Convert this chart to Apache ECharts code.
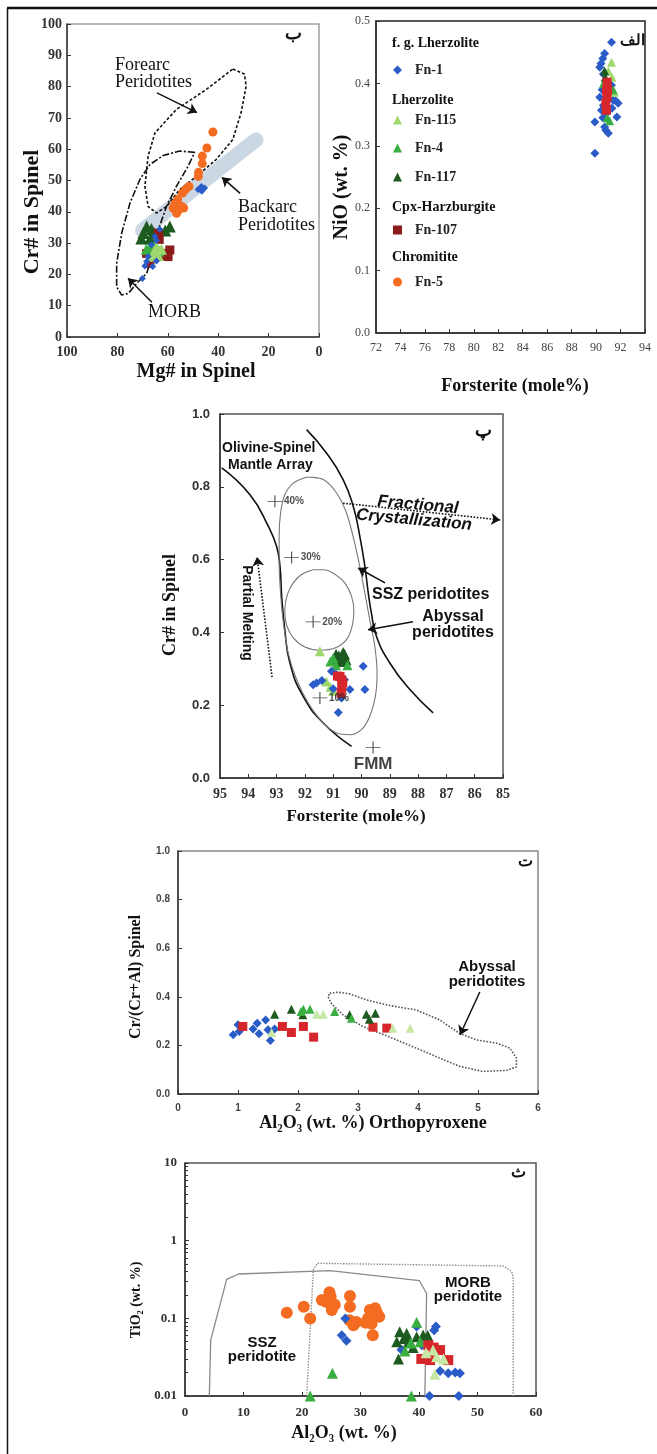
<!DOCTYPE html>
<html>
<head>
<meta charset="utf-8">
<script src="https://cdn.jsdelivr.net/npm/echarts@6/dist/echarts.min.js"></script>
<style>
  html, body { margin: 0; padding: 0; background: #fff; }
  #chart { width: 657px; height: 1454px; }
</style>
</head>
<body>
<div id="chart"></div>
<script>
// ---------- Panel ب : Mg# vs Cr# in spinel ----------
const mgcrFn1 = [[46.7,48.1],[48.0,47.1],[45.4,47.6],[46.5,46.6],[63.2,34.4],[65.1,32.1],[64.5,30.8],[66.5,29.5],[67.8,25.7],[68.4,24.1],[69.1,22.7],[64.5,24.3],[70.1,18.7],[66.0,22.5]];
const mgcrFn115 = [[65.1,27.5],[63.8,26.0],[62.5,28.0],[66.3,25.8],[64.5,28.8]];
const mgcrFn4 = [[67.1,28.5],[65.1,29.5],[66.0,27.8],[63.5,27.5],[68.5,28.0]];
const mgcrFn117 = [[68.4,35.3],[69.7,33.2],[70.5,31.5],[66.5,34.5],[59.2,35.3],[61.0,34.0],[67.0,31.5],[65.5,33.2]];
const mgcrFn107 = [[60.5,26.7],[59.2,27.8],[59.9,25.7],[68.4,26.7],[67.1,23.5],[63.8,33.2],[63.4,31.2],[61.5,26.0]];
const mgcrFn5 = [[42.1,65.5],[44.5,60.4],[46.3,57.8],[46.3,55.4],[47.8,52.6],[47.9,51.3],[51.6,48.1],[53.0,47.1],[54.2,46.0],[56.1,43.9],[57.2,42.6],[54.6,41.7],[57.9,41.2],[55.9,40.4],[53.7,41.2],[56.5,39.5]];
const mgcrForearc = [[34.2,85.6],[29.6,84.0],[28.9,80.2],[30.9,71.7],[34.2,63.1],[40.8,56.7],[48.7,51.3],[55.3,47.1],[60.5,41.7],[64.5,39.6],[67.8,41.7],[69.1,48.1],[67.8,57.8],[65.1,65.2],[56.6,72.7],[44.7,79.1],[34.2,85.6]];
const mgcrMorb = [[49.3,59.0],[55.3,59.4],[61.8,58.0],[67.1,55.1],[71.1,50.3],[75.0,42.8],[78.3,33.2],[80.3,23.5],[80.3,16.0],[78.3,13.4],[75.7,13.9],[72.4,17.1],[68.4,20.3],[65.8,26.7],[63.8,34.2],[60.5,41.7],[56.6,48.1],[52.0,54.5],[49.3,59.0]];
const mgcrBackarc = [[70,34],[47,49],[25,63]];
const mgcrArrows = [[[64.3,78.0],[48.4,71.7]],[[31.3,45.9],[38.5,51.0]],[[66.3,11.1],[75.8,18.8]]];

// ---------- Panel الف : Forsterite vs NiO in olivine ----------
const foniFn1 = [[91.26,0.466],[90.7,0.448],[90.55,0.44],[90.4,0.432],[90.3,0.426],[90.6,0.415],[90.3,0.378],[90.5,0.39],[90.44,0.357],[89.9,0.338],[90.85,0.352],[90.7,0.33],[90.8,0.325],[91.0,0.32],[91.7,0.346],[91.8,0.368],[91.6,0.372],[91.4,0.373],[89.9,0.288],[91.26,0.397],[90.6,0.365],[91.3,0.36],[90.55,0.345]];
const foniFn115 = [[91.26,0.434],[91.3,0.41],[91.5,0.386],[91.0,0.42]];
const foniFn4 = [[91.1,0.34],[90.9,0.345],[91.4,0.39],[90.6,0.40]];
const foniFn117 = [[90.7,0.42],[90.75,0.41]];
const foniFn107 = [[90.9,0.402],[90.85,0.389],[90.9,0.378],[90.8,0.368],[90.85,0.357],[90.95,0.39]];

// ---------- Panel پ : olivine Fo vs spinel Cr# (OSMA) ----------
const focrFn1 = [[89.94,0.307],[91.06,0.293],[91.59,0.261],[91.4,0.268],[91.71,0.256],[90.9,0.285],[90.41,0.243],[89.88,0.243],[90.71,0.22],[90.82,0.18],[91.0,0.245],[90.6,0.27]];
const focrFn115 = [[91.47,0.348],[91.24,0.265],[91.1,0.25],[91.0,0.24]];
const focrFn4 = [[91.0,0.33],[90.9,0.31],[90.5,0.31],[91.1,0.32]];
const focrFn117 = [[90.9,0.34],[90.8,0.335],[90.7,0.33],[90.6,0.34],[90.55,0.325],[90.75,0.32],[90.65,0.345],[91.0,0.325]];
const focrFn107 = [[90.76,0.279],[90.7,0.27],[90.66,0.261],[90.7,0.247],[90.72,0.233],[90.85,0.28]];
const focrArrayLeft = [[94.94,0.852],[93.94,0.778],[93.29,0.691],[93.0,0.636],[92.88,0.581],[92.82,0.499],[92.71,0.408],[92.53,0.316],[92.06,0.224],[91.35,0.151],[90.35,0.087]];
const focrArrayRight = [[91.94,0.957],[91.24,0.893],[90.65,0.82],[90.29,0.746],[90.06,0.664],[89.88,0.581],[89.76,0.508],[89.65,0.453],[89.47,0.389],[89.0,0.316],[88.29,0.243],[87.47,0.179]];
const focrSszField = [[91.94,0.827],[92.41,0.81],[92.71,0.778],[92.86,0.728],[92.91,0.664],[92.91,0.591],[92.86,0.508],[92.76,0.426],[92.59,0.343],[92.29,0.27],[91.88,0.206],[91.35,0.151],[90.82,0.122],[90.41,0.119],[90.0,0.133],[89.71,0.169],[89.51,0.224],[89.45,0.288],[89.53,0.362],[89.71,0.435],[89.88,0.508],[90.06,0.581],[90.27,0.655],[90.53,0.728],[90.88,0.783],[91.35,0.82],[91.94,0.827]];
const focrAbyssalField = [[91.71,0.572],[92.12,0.559],[92.41,0.536],[92.62,0.504],[92.71,0.462],[92.65,0.421],[92.41,0.385],[92.0,0.36],[91.47,0.351],[90.94,0.357],[90.53,0.38],[90.33,0.417],[90.27,0.458],[90.35,0.499],[90.59,0.536],[90.94,0.56],[91.35,0.572],[91.71,0.572]];
const meltPoints = [[93.06,0.76],[92.47,0.606],[91.71,0.429],[91.47,0.22],[89.59,0.084]];
const meltLabels = ['40%','30%','20%','10%','FMM'];
const focrArrows = [[[90.65,0.755],[85.1,0.709]],[[93.16,0.277],[93.69,0.607]]];
const focrPointers = [[[89.17,0.536],[90.12,0.577]],[[88.18,0.429],[89.77,0.407]]];

// ---------- Panel ت : Al2O3 in opx vs spinel Cr/(Cr+Al) ----------
const alcrFn1 = [[0.92,0.244],[1.0,0.285],[1.02,0.257],[1.25,0.267],[1.32,0.291],[1.35,0.248],[1.46,0.305],[1.5,0.264],[1.61,0.267],[1.54,0.22]];
const alcrFn115 = [[2.31,0.328],[2.42,0.328],[1.56,0.253],[3.58,0.271],[3.87,0.271]];
const alcrFn4 = [[2.09,0.349],[2.2,0.349],[2.61,0.339],[2.89,0.312],[2.05,0.34]];
const alcrFn117 = [[1.61,0.328],[1.89,0.349],[2.08,0.326],[2.86,0.326],[3.14,0.328],[3.19,0.308],[3.29,0.332]];
const alcrFn107 = [[1.08,0.278],[1.74,0.278],[1.89,0.253],[2.09,0.278],[2.26,0.234],[3.25,0.275],[3.48,0.271]];
const alcrAbyssal = [[2.53,0.415],[2.67,0.419],[2.86,0.412],[3.14,0.387],[3.53,0.364],[3.97,0.346],[4.36,0.305],[4.69,0.25],[4.97,0.223],[5.31,0.209],[5.53,0.189],[5.64,0.148],[5.64,0.111],[5.47,0.097],[5.08,0.093],[4.69,0.114],[4.36,0.148],[3.97,0.189],[3.53,0.234],[3.08,0.278],[2.75,0.326],[2.56,0.371],[2.5,0.401],[2.53,0.415]];
const alcrArrow = [[[5.03,0.42],[4.7,0.243]]];

// ---------- Panel ث : Al2O3 vs TiO2 in spinel ----------
const altiFn1 = [[26.8,0.0607],[27.6,0.0514],[27.4,0.0996],[39.6,0.0784],[42.9,0.0784],[42.6,0.07],[43.6,0.021],[45.0,0.0197],[46.2,0.02],[47.0,0.0197],[41.8,0.01],[46.8,0.01],[37.0,0.0394],[40.5,0.045]];
const altiFn115 = [[42.4,0.039],[43.0,0.032],[42.7,0.019],[44.2,0.03],[41.2,0.036]];
const altiFn4 = [[25.2,0.0197],[21.4,0.01],[38.7,0.01],[39.6,0.089],[37.6,0.038],[38.6,0.048],[40.2,0.05]];
const altiFn117 = [[36.5,0.03],[36.7,0.067],[36.2,0.05],[37.9,0.064],[39.6,0.058],[40.7,0.061],[41.5,0.06],[39.0,0.042],[38.2,0.05],[37.4,0.055]];
const altiFn107 = [[41.6,0.045],[43.6,0.039],[40.4,0.03],[41.9,0.029],[45.0,0.029],[42.5,0.042]];
const altiFn5 = [[17.4,0.118],[20.3,0.141],[21.4,0.0996],[23.4,0.172],[24.7,0.216],[24.9,0.19],[24.2,0.162],[25.1,0.128],[25.6,0.15],[28.2,0.194],[28.2,0.141],[28.1,0.0948],[28.8,0.0817],[29.3,0.09],[31.6,0.128],[32.2,0.11],[32.8,0.118],[31.9,0.085],[33.2,0.105],[32.1,0.0607],[31.3,0.1],[30.9,0.088],[32.5,0.135]];
const altiSsz = [[4.16,0.01],[4.39,0.0523],[7.12,0.318],[9.12,0.372],[24.8,0.411],[40.06,0.305],[41.3,0.209],[41.0,0.01]];
const altiMorb = [[20.8,0.01],[21.94,0.419],[22.6,0.511],[54.4,0.472],[55.84,0.399],[56.1,0.344],[56.1,0.01]];

// ---------- styling ----------
const SERIF = "'Liberation Serif','Times New Roman',serif";
const SANS = "'Liberation Sans',Arial,sans-serif";
const COL = { fn1: '#2a5cc7', fn115: '#9fd86f', fn115pale: '#c6e8a4', fn4: '#3aae40', fn117: '#1d5a1f',
              fn107: '#d7262b', fn107dark: '#8e1a1a', fn5: '#f36c21' };

const grids = [
  { left: 67,  top: 24,   width: 252, height: 313, borderColor: '#a0a0a0' },  // ب
  { left: 376, top: 21,   width: 269, height: 312, borderColor: '#222' },     // الف
  { left: 220, top: 414,  width: 283, height: 364, borderColor: '#555' },     // پ
  { left: 178, top: 851,  width: 360, height: 243, borderColor: '#888' },     // ت
  { left: 185, top: 1163, width: 351, height: 233, borderColor: '#555' }      // ث
].map(g => Object.assign({ show: true, borderWidth: 1.5, outerBoundsMode: 'none', containLabel: false }, g));

function axis(g, o) {
  return Object.assign({
    gridIndex: g, type: 'value', splitLine: { show: false },
    axisLine: { show: true, onZero: false, lineStyle: { color: '#333', width: 1.5 } },
    axisTick: { show: true, inside: true, length: 4, lineStyle: { color: '#333' } },
    axisLabel: { color: '#333', fontFamily: SERIF, fontWeight: 'bold', fontSize: 13, margin: 8 }
  }, o);
}
const fix1 = v => v.toFixed(1);

const xAxes = [
  axis(0, { min: 0, max: 100, interval: 20, inverse: true, axisLabel: { color: '#333', fontFamily: SERIF, fontWeight: 'bold', fontSize: 14, margin: 8 } }),
  axis(1, { min: 72, max: 94, interval: 2, axisLabel: { color: '#444', fontFamily: SERIF, fontSize: 12, margin: 9 } }),
  axis(2, { min: 85, max: 95, interval: 1, inverse: true, axisLabel: { color: '#333', fontFamily: SERIF, fontWeight: 'bold', fontSize: 14, margin: 9 } }),
  axis(3, { min: 0, max: 6, interval: 1, axisLabel: { color: '#444', fontFamily: SANS, fontWeight: 'bold', fontSize: 10, margin: 9 } }),
  axis(4, { min: 0, max: 60, interval: 10, axisLabel: { color: '#333', fontFamily: SERIF, fontWeight: 'bold', fontSize: 13, margin: 10 } })
];
const yAxes = [
  axis(0, { min: 0, max: 100, interval: 10, axisLabel: { color: '#333', fontFamily: SERIF, fontWeight: 'bold', fontSize: 14, margin: 5 } }),
  axis(1, { min: 0, max: 0.5, interval: 0.1, axisLabel: { color: '#444', fontFamily: SERIF, fontSize: 12, margin: 6, formatter: fix1 } }),
  axis(2, { min: 0, max: 1, interval: 0.2, axisLabel: { color: '#333', fontFamily: SANS, fontWeight: 'bold', fontSize: 13, margin: 10, formatter: fix1 } }),
  axis(3, { min: 0, max: 1, interval: 0.2, axisLabel: { color: '#444', fontFamily: SANS, fontWeight: 'bold', fontSize: 10, margin: 8, formatter: fix1 } }),
  axis(4, { type: 'log', logBase: 10, min: 0.01, max: 10, axisLabel: { color: '#333', fontFamily: SERIF, fontWeight: 'bold', fontSize: 13, margin: 8 },
            minorTick: { show: true, splitNumber: 9, length: 3, lineStyle: { color: '#333' } } })
];

function pts(name, g, data, symbol, color, size) {
  return { type: 'scatter', name, xAxisIndex: g, yAxisIndex: g, data, symbol, symbolSize: size,
           itemStyle: { color, opacity: 1 }, z: 5, silent: true };
}
function curve(g, data, color, width, type, smooth, z) {
  return { type: 'line', xAxisIndex: g, yAxisIndex: g, data, symbol: 'none', smooth: smooth || false,
           lineStyle: { color, width, type }, silent: true, z: z || 3 };
}
function arrows(g, list, type, width) {
  return { type: 'lines', coordinateSystem: 'cartesian2d', xAxisIndex: g, yAxisIndex: g, silent: true, z: 4,
           symbol: ['none', 'arrow'], symbolSize: 9,
           lineStyle: { color: '#111', width: width || 1.5, type: type || 'solid', opacity: 1, curveness: 0 },
           data: list.map(c => ({ coords: c })) };
}

const series = [
  // ب
  Object.assign(curve(0, mgcrBackarc, '#cbd7e2', 15, 'solid', true, 1), { lineStyle: { color: '#cbd7e2', width: 15, cap: 'round', join: 'round' } }),
  curve(0, mgcrForearc, '#111', 1.6, [3, 2], false),
  curve(0, mgcrMorb, '#111', 1.6, [7, 2, 2, 2], false),
  arrows(0, mgcrArrows),
  pts('Fn-5', 0, mgcrFn5, 'circle', COL.fn5, 9),
  pts('Fn-117', 0, mgcrFn117, 'triangle', COL.fn117, 12),
  pts('Fn-107', 0, mgcrFn107, 'rect', COL.fn107dark, 9),
  pts('Fn-4', 0, mgcrFn4, 'triangle', COL.fn4, 11),
  pts('Fn-115', 0, mgcrFn115, 'triangle', COL.fn115, 11),
  pts('Fn-1', 0, mgcrFn1, 'diamond', COL.fn1, 7),
  // الف
  pts('Fn-1', 1, foniFn1, 'diamond', COL.fn1, 9),
  pts('Fn-115', 1, foniFn115, 'triangle', COL.fn115, 9),
  pts('Fn-4', 1, foniFn4, 'triangle', COL.fn4, 9),
  pts('Fn-117', 1, foniFn117, 'triangle', COL.fn117, 9),
  pts('Fn-107', 1, foniFn107, 'rect', COL.fn107, 9),
  // پ
  curve(2, focrArrayLeft, '#111', 1.6, 'solid', true),
  curve(2, focrArrayRight, '#111', 1.6, 'solid', true),
  curve(2, focrSszField, '#777', 1.1, 'solid', 0.3),
  curve(2, focrAbyssalField, '#777', 1.1, 'solid', 0.3),
  arrows(2, focrArrows, 'dotted', 1.6),
  arrows(2, focrPointers, 'solid', 1.5),
  { type: 'scatter', xAxisIndex: 2, yAxisIndex: 2, silent: true, z: 6,
    symbol: 'path://M0 5L16 5M8 0L8 10', symbolSize: [15, 12],
    itemStyle: { color: 'rgba(0,0,0,0)', borderColor: '#222', borderWidth: 1 },
    data: meltPoints.map((p, i) => ({
      value: p,
      label: i === 4
        ? { show: true, position: 'bottom', distance: 2, formatter: meltLabels[i], fontFamily: SANS, fontWeight: 'bold', fontSize: 17, color: '#111' }
        : { show: true, position: 'right', distance: 1, formatter: meltLabels[i], fontFamily: SANS, fontWeight: 'bold', fontSize: 10, color: '#222' }
    })) },
  pts('Fn-117', 2, focrFn117, 'triangle', COL.fn117, 11),
  pts('Fn-4', 2, focrFn4, 'triangle', COL.fn4, 10),
  pts('Fn-115', 2, focrFn115, 'triangle', COL.fn115, 10),
  pts('Fn-1', 2, focrFn1, 'diamond', COL.fn1, 9),
  pts('Fn-107', 2, focrFn107, 'rect', COL.fn107, 9),
  // ت
  curve(3, alcrAbyssal, '#555', 1.6, 'dotted', false),
  arrows(3, alcrArrow),
  pts('Fn-1', 3, alcrFn1, 'diamond', COL.fn1, 9),
  pts('Fn-107', 3, alcrFn107, 'rect', COL.fn107, 9),
  pts('Fn-117', 3, alcrFn117, 'triangle', COL.fn117, 9),
  pts('Fn-4', 3, alcrFn4, 'triangle', COL.fn4, 9),
  pts('Fn-115', 3, alcrFn115, 'triangle', COL.fn115pale, 9),
  // ث
  curve(4, altiSsz, '#8a8a8a', 1.3, 'solid', false),
  curve(4, altiMorb, '#8a8a8a', 1.4, 'dotted', false),
  pts('Fn-5', 4, altiFn5, 'circle', COL.fn5, 12),
  pts('Fn-1', 4, altiFn1, 'diamond', COL.fn1, 10),
  pts('Fn-117', 4, altiFn117, 'triangle', COL.fn117, 11),
  pts('Fn-4', 4, altiFn4, 'triangle', COL.fn4, 11),
  pts('Fn-107', 4, altiFn107, 'rect', COL.fn107, 10),
  pts('Fn-115', 4, altiFn115, 'triangle', COL.fn115pale, 11)
];

// legend rows inside panel الف
const legendRows = [
  ['Fn-1', 'diamond', COL.fn1, 63],
  ['Fn-115', 'triangle', COL.fn115, 113],
  ['Fn-4', 'triangle', COL.fn4, 141],
  ['Fn-117', 'triangle', COL.fn117, 170],
  ['Fn-107', 'rect', COL.fn107dark, 223],
  ['Fn-5', 'circle', COL.fn5, 275]
];
const legends = legendRows.map(r => ({
  left: 393, top: r[3], orient: 'horizontal', padding: 0, itemGap: 0, itemWidth: 9, itemHeight: 9,
  selectedMode: false,
  textStyle: { fontFamily: SERIF, fontWeight: 'bold', fontSize: 14, color: '#222', padding: [0, 0, 0, 8] },
  data: [{ name: r[0], icon: r[1], itemStyle: { color: r[2] } }]
}));

function txt(text, x, y, font, opts) {
  return Object.assign({ type: 'text', x, y, silent: true, z: 100,
    style: Object.assign({ text, font, fill: '#111', align: 'left', verticalAlign: 'middle' }, (opts && opts.style) || {}) },
    opts && opts.rotation !== undefined ? { rotation: opts.rotation } : {});
}
const B = 'bold ';
const graphics = [
  { type: 'line', silent: true, shape: { x1: 7, y1: 8, x2: 657, y2: 8 }, style: { stroke: '#111', lineWidth: 2.5 } },
  { type: 'line', silent: true, shape: { x1: 7.5, y1: 8, x2: 7.5, y2: 1454 }, style: { stroke: '#111', lineWidth: 1.5 } },
  // panel letters
  txt('ب', 293, 34, B + '18px ' + SANS, { style: { align: 'center' } }),
  txt('الف', 632, 41, B + '15px ' + SANS, { style: { align: 'center' } }),
  txt('پ', 483, 431, B + '18px ' + SANS, { style: { align: 'center' } }),
  txt('ت', 525, 862, B + '16px ' + SANS, { style: { align: 'center' } }),
  txt('ث', 518, 1173, B + '16px ' + SANS, { style: { align: 'center' } }),
  // axis titles
  txt('Cr# in Spinel', 32, 212, B + '22px ' + SERIF, { rotation: Math.PI / 2, style: { align: 'center' } }),
  txt('Mg# in Spinel', 196, 372, B + '20px ' + SERIF, { style: { align: 'center' } }),
  txt('NiO (wt. %)', 342, 187, B + '20px ' + SERIF, { rotation: Math.PI / 2, style: { align: 'center' } }),
  txt('Forsterite (mole%)', 515, 386, B + '18px ' + SERIF, { style: { align: 'center' } }),
  txt('Cr# in Spinel', 170, 605, B + '18px ' + SERIF, { rotation: Math.PI / 2, style: { align: 'center' } }),
  txt('Forsterite (mole%)', 356, 817, B + '17px ' + SERIF, { style: { align: 'center' } }),
  txt('Cr/(Cr+Al) Spinel', 136, 977, B + '16px ' + SERIF, { rotation: Math.PI / 2, style: { align: 'center' } }),
  txt('Al₂O₃ (wt. %) Orthopyroxene', 373, 1123, B + '18px ' + SERIF, { style: { align: 'center' } }),
  txt('TiO₂ (wt. %)', 136, 1300, B + '14px ' + SERIF, { rotation: Math.PI / 2, style: { align: 'center' } }),
  txt('Al₂O₃ (wt. %)', 344, 1433, B + '18px ' + SERIF, { style: { align: 'center' } }),
  // legend group headings
  txt('f. g. Lherzolite', 392, 43, B + '14px ' + SERIF),
  txt('Lherzolite', 392, 100, B + '14px ' + SERIF),
  txt('Cpx-Harzburgite', 392, 207, B + '14px ' + SERIF),
  txt('Chromitite', 392, 257, B + '14px ' + SERIF),
  // panel ب field names
  txt('Forearc', 115, 65, '18px ' + SERIF),
  txt('Peridotites', 115, 82, '18px ' + SERIF),
  txt('Backarc', 238, 207, '18px ' + SERIF),
  txt('Peridotites', 238, 225, '18px ' + SERIF),
  txt('MORB', 148, 312, '18px ' + SERIF),
  // panel پ annotations
  txt('Olivine-Spinel', 222, 448, B + '14px ' + SANS),
  txt('Mantle Array', 228, 465, B + '14px ' + SANS),
  txt('Fractional', 418, 505, 'italic bold 17px ' + SANS, { rotation: -0.09, style: { align: 'center' } }),
  txt('Crystallization', 414, 520, 'italic bold 17px ' + SANS, { rotation: -0.09, style: { align: 'center' } }),
  txt('Partial Melting', 247, 613, B + '14px ' + SANS, { rotation: -Math.PI / 2, style: { align: 'center' } }),
  txt('SSZ peridotites', 372, 595, B + '16px ' + SANS),
  txt('Abyssal', 453, 617, B + '16px ' + SANS, { style: { align: 'center' } }),
  txt('peridotites', 453, 633, B + '16px ' + SANS, { style: { align: 'center' } }),
  // panel ت annotation
  txt('Abyssal', 487, 967, B + '15px ' + SANS, { style: { align: 'center' } }),
  txt('peridotites', 487, 982, B + '15px ' + SANS, { style: { align: 'center' } }),
  // panel ث field names
  txt('SSZ', 262, 1343, B + '15px ' + SANS, { style: { align: 'center' } }),
  txt('peridotite', 262, 1357, B + '15px ' + SANS, { style: { align: 'center' } }),
  txt('MORB', 468, 1283, B + '15px ' + SANS, { style: { align: 'center' } }),
  txt('peridotite', 468, 1297, B + '15px ' + SANS, { style: { align: 'center' } })
];

const chart = echarts.init(document.getElementById('chart'), null, { renderer: 'canvas' });
chart.setOption({
  backgroundColor: '#ffffff',
  animation: false,
  grid: grids,
  xAxis: xAxes,
  yAxis: yAxes,
  legend: legends,
  series,
  graphic: graphics
});
</script>
</body>
</html>
